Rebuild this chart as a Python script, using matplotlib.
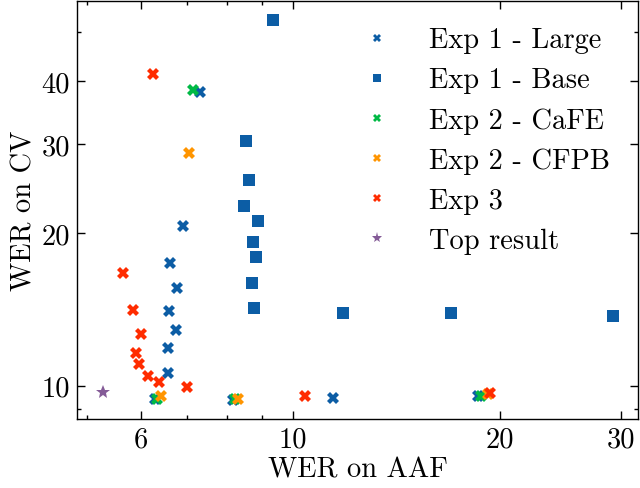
import numpy as np
import matplotlib
matplotlib.use("Agg")
import matplotlib.pyplot as plt

# Exp 1 - Large
large_x = [7.32, 6.90, 6.61, 6.76, 6.60, 6.74, 6.56, 6.57, 6.28, 8.18, 11.41, 18.6]
large_y = [38.0, 20.7, 17.5, 15.6, 14.06, 12.9, 11.86, 10.6, 9.41, 9.37, 9.44, 9.53]
# Exp 1 - Base
base_x = [9.33, 8.52, 8.63, 8.47, 8.88, 8.75, 8.83, 8.70, 8.77, 11.8, 17.0, 29.2]
base_y = [52.8, 30.4, 25.5, 22.7, 21.2, 19.2, 18.0, 15.95, 14.25, 13.9, 13.9, 13.76]
# Exp 2 - CaFE
cafe_x = [7.14, 6.33, 8.22, 18.77]
cafe_y = [38.5, 9.41, 9.40, 9.55]
# Exp 2 - CFPB
cfpb_x = [7.04, 6.41, 8.31, 19.2]
cfpb_y = [28.8, 9.53, 9.41, 9.62]
# Exp 3
exp3_x = [6.25, 5.65, 5.84, 6.00, 5.89, 5.96, 6.15, 6.37, 6.99, 10.39, 19.34]
exp3_y = [41.3, 16.7, 14.1, 12.64, 11.6, 11.05, 10.47, 10.15, 9.93, 9.55, 9.66]
# Top result
top_x = [5.28]
top_y = [9.70]

xticks = [6, 10, 20, 30]
yticks = [10, 20, 30, 40]

plt.rcParams["font.family"] = "serif"
plt.rcParams["font.serif"] = ["cmr10"]
plt.rcParams["mathtext.fontset"] = "cm"
plt.rcParams["axes.formatter.use_mathtext"] = True
plt.rcParams["font.size"] = 20.5

fig = plt.figure(figsize=(6.4, 4.89), dpi=100)
ax = fig.add_axes([0.1203, 0.141, 0.8767, 0.854])

ms = 8
ax.plot(large_x, large_y, "X", color="#0C5DA5", ms=ms, mew=0, label="Exp 1 - Large")
ax.plot(base_x, base_y, "s", color="#0C5DA5", ms=ms, mew=0, label="Exp 1 - Base")
ax.plot(cafe_x, cafe_y, "X", color="#00B945", ms=ms, mew=0, label="Exp 2 - CaFE")
ax.plot(cfpb_x, cfpb_y, "X", color="#FF9500", ms=ms, mew=0, label="Exp 2 - CFPB")
ax.plot(exp3_x, exp3_y, "X", color="#FF2C00", ms=ms, mew=0, label="Exp 3")
ax.plot(top_x, top_y, "*", color="#845B97", ms=ms + 2, mew=0, label="Top result")

ax.set_xscale("log")
ax.set_yscale("log")
ax.set_xlim(4.84, 31.8)
ax.set_ylim(8.59, 57.5)

ax.set_xticks(xticks)
ax.set_xticklabels([str(t) for t in xticks])
ax.set_yticks(yticks)
ax.set_yticklabels([str(t) for t in yticks])
ax.xaxis.set_minor_formatter(plt.NullFormatter())
ax.yaxis.set_minor_formatter(plt.NullFormatter())

ax.tick_params(which="both", direction="in", top=True, right=True, width=1.0)
ax.tick_params(which="major", length=6, pad=5)
ax.tick_params(which="minor", length=3)
for s in ax.spines.values():
    s.set_linewidth(1.0)

ax.set_xlabel("WER on AAF", labelpad=3)
ax.set_ylabel("WER on CV", labelpad=3)

ax.legend(loc="upper right", frameon=False, markerscale=0.8,
          handlelength=2.0, handletextpad=0.8, labelspacing=0.48,
          borderaxespad=0.4, bbox_to_anchor=(0.99, 0.993))

fig.savefig("out.png", dpi=100)
